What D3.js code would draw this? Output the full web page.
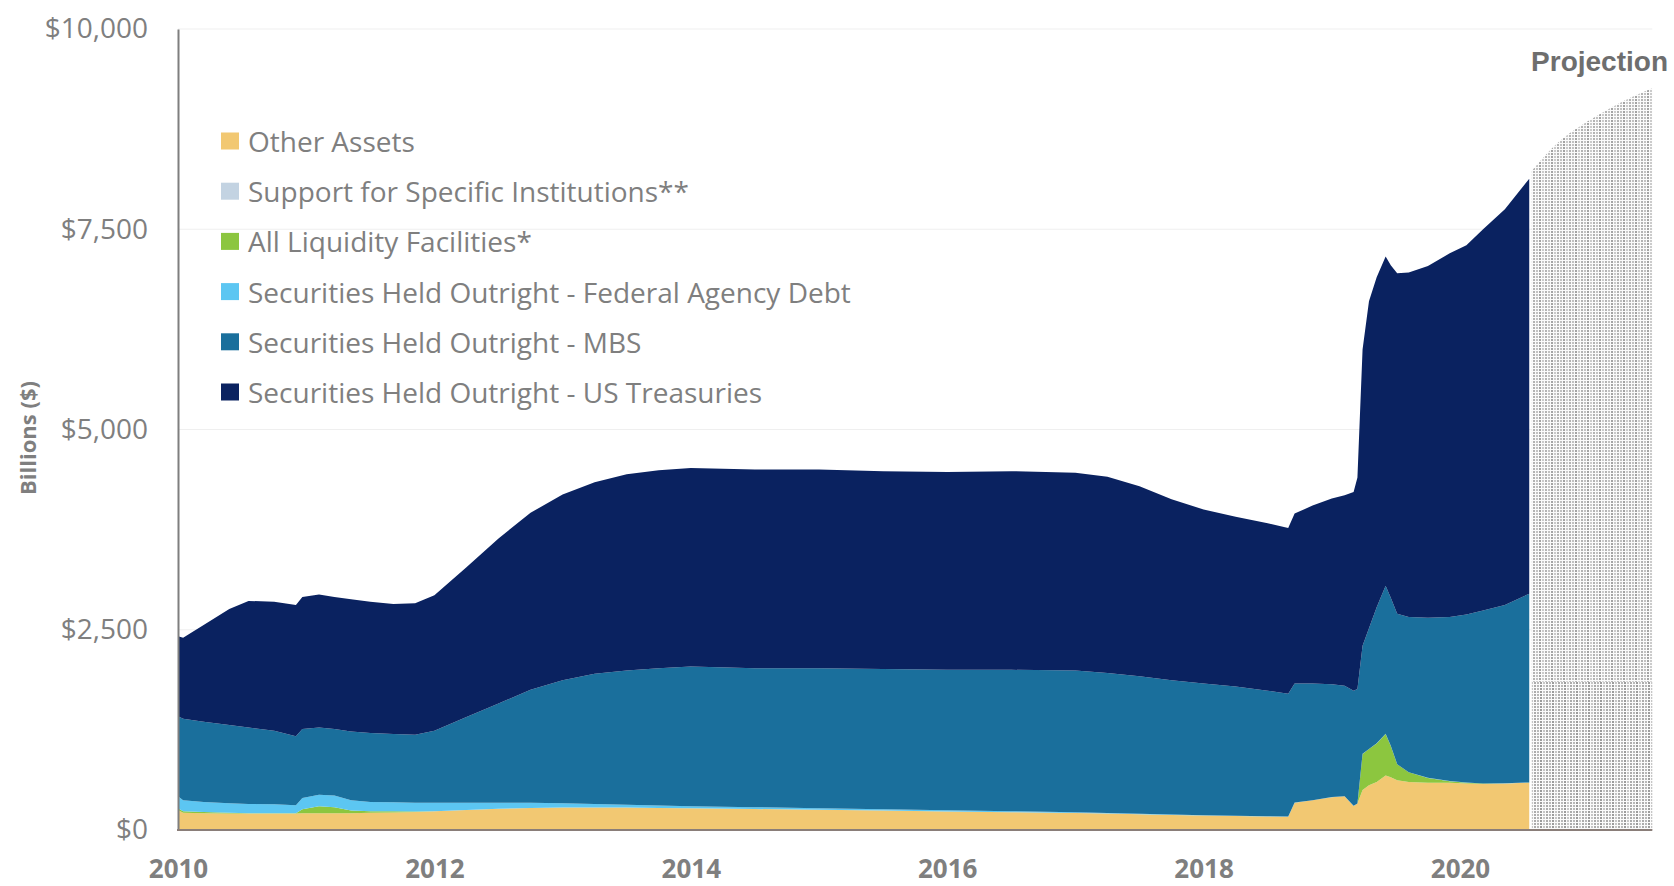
<!DOCTYPE html>
<html>
<head>
<meta charset="utf-8">
<script src="https://cdn.jsdelivr.net/npm/d3@7"></script>
<style>
  body { margin: 0; background: #ffffff; }
  svg { display: block; }
</style>
</head>
<body>
<svg id="chart" width="1674" height="886"></svg>
<script>
// Observation dates (fractional years on the chart's time axis)
const dates = [2010.00, 2010.04, 2010.20, 2010.40, 2010.55, 2010.75, 2010.92, 2010.97, 2011.10, 2011.22, 2011.35, 2011.50, 2011.68, 2011.85,
  2012.00, 2012.25, 2012.50, 2012.75, 2013.00, 2013.25, 2013.50, 2013.75, 2014.00, 2014.50, 2015.00, 2015.50, 2016.00, 2016.50,
  2017.00, 2017.25, 2017.50, 2017.75, 2018.00, 2018.25, 2018.50, 2018.66,
  2018.71, 2018.85, 2019.00, 2019.10, 2019.17, 2019.20, 2019.24, 2019.29, 2019.35, 2019.42, 2019.46, 2019.51, 2019.60, 2019.75,
  2019.92, 2020.05, 2020.18, 2020.35, 2020.54];

// Balance sheet components, billions of dollars
const otherAssets = [250, 215, 210, 205, 205, 205, 205, 210, 210, 210, 210, 215, 220, 225,
  235, 250, 265, 275, 280, 280, 280, 275, 270, 262, 252, 242, 232, 222,
  212, 205, 197, 188, 180, 175, 168, 165,
  340, 370, 410, 420, 300, 330, 500, 560, 600, 680, 660, 620, 600, 590,
  590, 580, 575, 580, 590];

const supportInstitutions = [0, 0, 0, 0, 0, 0, 0, 0, 0, 0, 0, 0, 0, 0,
  0, 0, 0, 0, 0, 0, 0, 0, 0, 0, 0, 0, 0, 0,
  0, 0, 0, 0, 0, 0, 0, 0,
  0, 0, 0, 0, 0, 0, 0, 0, 0, 0, 0, 0, 0, 0,
  0, 0, 0, 0, 0];

const liquidityFacilities = [20, 20, 15, 10, 5, 5, 5, 50, 85, 75, 35, 20, 15, 5,
  0, 0, 0, 0, 0, 0, 0, 0, 0, 0, 0, 0, 0, 0,
  0, 0, 0, 0, 0, 0, 0, 0,
  0, 0, 0, 0, 0, 0, 450, 450, 480, 520, 390, 200, 120, 60,
  20, 10, 5, 2, 2];

const agencyDebt = [150, 135, 125, 120, 115, 110, 100, 140, 145, 145, 125, 115, 110, 110,
  105, 90, 75, 65, 55, 45, 35, 30, 25, 23, 20, 18, 16, 13,
  10, 8, 7, 6, 5, 4, 3, 3,
  2, 2, 2, 2, 2, 2, 2, 2, 2, 2, 2, 2, 2, 2,
  2, 2, 2, 2, 2];

const mbs = [1000, 1020, 1000, 975, 955, 920, 860, 860, 840, 830, 860, 860, 855, 850,
  900, 1070, 1240, 1410, 1535, 1625, 1675, 1715, 1745, 1735, 1748, 1750, 1752, 1765,
  1768, 1747, 1716, 1676, 1645, 1611, 1569, 1532,
  1488, 1458, 1408, 1378, 1438, 1428, 1348, 1508, 1698, 1848, 1848, 1878, 1938, 1998,
  2048, 2098, 2158, 2226, 2356];

const treasuries = [1000, 1010, 1210, 1450, 1580, 1610, 1640, 1650, 1660, 1650, 1650, 1640, 1620, 1640,
  1690, 1870, 2060, 2210, 2320, 2390, 2450, 2470, 2480, 2480, 2480, 2470, 2470, 2480,
  2470, 2450, 2370, 2260, 2170, 2120, 2090, 2070,
  2120, 2220, 2320, 2380, 2480, 2640, 3700, 4080, 4120, 4110, 4150, 4250, 4300, 4390,
  4540, 4610, 4760, 4940, 5180];

// Projected total balance sheet
const projDates = [2020.56, 2020.75, 2021.00, 2021.25, 2021.50];
const projBase = [1850, 1850, 1850, 1850, 1850];
const projTotal = [8230, 8560, 8850, 9080, 9260];

const seriesNames = [
  "Other Assets",
  "Support for Specific Institutions**",
  "All Liquidity Facilities*",
  "Securities Held Outright - Federal Agency Debt",
  "Securities Held Outright - MBS",
  "Securities Held Outright - US Treasuries"
];
const seriesColors = ["#f2c872", "#c3d3e2", "#8cc63f", "#5cc6f2", "#1a6f9c", "#0a2260"];
const seriesData = [otherAssets, supportInstitutions, liquidityFacilities, agencyDebt, mbs, treasuries];

const yTicks = [0, 2500, 5000, 7500, 10000];
const xTicks = [2010, 2012, 2014, 2016, 2018, 2020];

// ---- layout ----
const svg = d3.select("#chart");
const x = d3.scaleLinear().domain([2010, 2020]).range([178, 1460]);
const y = d3.scaleLinear().domain([0, 10000]).range([830, 29]);
const xEnd = x(2021.5);

// stippled fills for the projected region
const defs = svg.append("defs");
function stipple(id, shades, offset) {
  const p = defs.append("pattern").attr("id", id)
    .attr("patternUnits", "userSpaceOnUse")
    .attr("width", 3 * shades.length).attr("height", 3)
    .attr("patternTransform", `translate(${offset},${offset})`);
  p.append("rect").attr("width", 3 * shades.length).attr("height", 3).attr("fill", "#fbfbfb");
  shades.forEach((c, i) => {
    p.append("rect").attr("x", i * 3).attr("y", 0).attr("width", 2).attr("height", 2).attr("fill", c);
  });
}
stipple("projUpper", ["#c2c2c2", "#a4a4a4", "#cbcbcb", "#b3b3b3"], 0);
stipple("projLower", ["#b8b8b8", "#9c9c9c", "#c6c6c6", "#acacac"], 1);

// faint horizontal gridlines
svg.append("g").selectAll("line").data(yTicks.filter(d => d > 0)).join("line")
  .attr("x1", x(2010)).attr("x2", xEnd)
  .attr("y1", d => y(d)).attr("y2", d => y(d))
  .attr("stroke", "#efefef").attr("stroke-width", 1);

// stacked areas
const table = dates.map((d, i) => {
  const row = { date: d };
  seriesNames.forEach((n, k) => { row[n] = seriesData[k][i]; });
  return row;
});
const stack = d3.stack().keys(seriesNames);
const layers = stack(table);
const area = d3.area()
  .x(d => x(d.data.date))
  .y0(d => y(d[0]))
  .y1(d => y(d[1]))
  .curve(d3.curveLinear);

svg.append("g").selectAll("path").data(layers).join("path")
  .attr("d", area)
  .attr("fill", (d, i) => seriesColors[i]);

// projection
const projRows = projDates.map((d, i) => ({ date: d, base: projBase[i], total: projTotal[i] }));
svg.append("path")
  .datum(projRows)
  .attr("d", d3.area().x(d => x(d.date)).y0(y(0)).y1(d => y(d.base)))
  .attr("fill", "url(#projLower)");
svg.append("path")
  .datum(projRows)
  .attr("d", d3.area().x(d => x(d.date)).y0(d => y(d.base)).y1(d => y(d.total)).curve(d3.curveMonotoneX))
  .attr("fill", "url(#projUpper)");

svg.append("text")
  .attr("x", 1668).attr("y", 61)
  .attr("text-anchor", "end").attr("dominant-baseline", "central")
  .attr("font-family", "'Liberation Sans', Arial, sans-serif")
  .attr("font-weight", "bold").attr("font-size", 28)
  .attr("fill", "#6e6e6e")
  .text("Projection");

// axes
const yAxis = d3.axisLeft(y).tickValues(yTicks).tickSize(0).tickPadding(30)
  .tickFormat(d => "$" + d3.format(",")(d));
const gy = svg.append("g").attr("transform", `translate(${x(2010)},0)`).call(yAxis);
gy.select(".domain").attr("stroke", "#7f7f7f").attr("stroke-width", 2);
gy.selectAll("text")
  .attr("font-family", "'Open Sans', sans-serif").attr("font-size", 28)
  .attr("fill", "#7f7f7f");

const xAxis = d3.axisBottom(x).tickValues(xTicks).tickSize(0).tickPadding(30)
  .tickFormat(d3.format("d"));
const gx = svg.append("g").attr("transform", `translate(0,${y(0)})`).call(xAxis);
gx.select(".domain").remove();
gx.selectAll("text")
  .attr("font-family", "'Open Sans', sans-serif").attr("font-size", 26)
  .attr("font-weight", "bold").attr("fill", "#7f7f7f");
svg.append("line")
  .attr("x1", x(2010) - 1).attr("x2", xEnd)
  .attr("y1", y(0)).attr("y2", y(0))
  .attr("stroke", "#8a7e79").attr("stroke-width", 2);

// y title
svg.append("text")
  .attr("transform", "translate(27,438) rotate(-90)")
  .attr("text-anchor", "middle").attr("dominant-baseline", "central")
  .attr("font-family", "'Open Sans', sans-serif").attr("font-weight", "bold")
  .attr("font-size", 22).attr("fill", "#7f7f7f")
  .text("Billions ($)");

// legend
const legend = svg.append("g").attr("transform", "translate(221,141)");
const items = legend.selectAll("g").data(seriesNames).join("g")
  .attr("transform", (d, i) => `translate(0,${i * 50.2})`);
items.append("rect")
  .attr("x", 0).attr("y", -8.5).attr("width", 18).attr("height", 17)
  .attr("fill", (d, i) => seriesColors[i]);
items.append("text")
  .attr("x", 27).attr("y", 0).attr("dominant-baseline", "central")
  .attr("font-family", "'Open Sans', sans-serif").attr("font-size", 28)
  .attr("fill", "#7f7f7f")
  .text(d => d);
</script>
</body>
</html>
